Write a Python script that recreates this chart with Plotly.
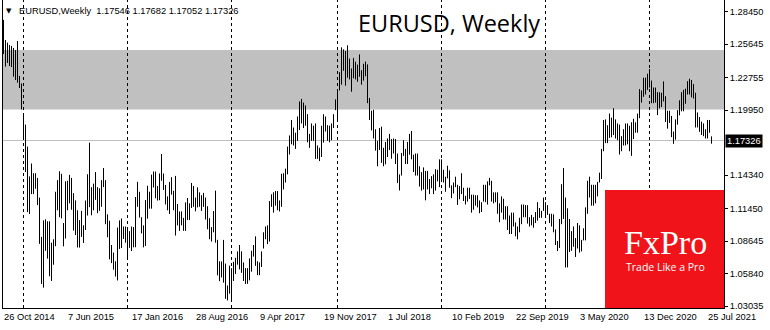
import pandas as pd
import plotly.graph_objects as go

# ---------------- data (weekly EURUSD bars, high / low) ----------------
first_week = "2014-10-26"

high_2014 = [1.2775, 1.2601, 1.2578, 1.2558, 1.2549, 1.2532, 1.2514, 1.2592, 1.2290, 1.2225]
low_2014 = [1.2480, 1.2371, 1.2402, 1.2376, 1.2367, 1.2284, 1.2255, 1.2232, 1.2186, 1.2001]

high_2015 = [1.1970, 1.1870, 1.1680, 1.1423, 1.1534, 1.1450, 1.1450, 1.1410, 1.1240, 1.0900,
             1.1043, 1.1052, 1.1035, 1.1035, 1.0850, 1.0880, 1.1290, 1.1390, 1.1467, 1.1445,
             1.1020, 1.1380, 1.1385, 1.1436, 1.1410, 1.1278, 1.1216, 1.1130, 1.1045, 1.1125,
             1.1000, 1.1214, 1.1441, 1.1714, 1.1330, 1.1360, 1.1460, 1.1330, 1.1320, 1.1390,
             1.1495, 1.1390, 1.1095, 1.1040, 1.0830, 1.0765, 1.0690, 1.0981, 1.1043, 1.1059,
             1.0990, 1.0990]
low_2015 = [1.1754, 1.1460, 1.1114, 1.1098, 1.1270, 1.1270, 1.1316, 1.1175, 1.0840, 1.0494,
            1.0462, 1.0780, 1.0712, 1.0560, 1.0520, 1.0660, 1.0820, 1.1130, 1.1070, 1.1060,
            1.0819, 1.0886, 1.1130, 1.1190, 1.1135, 1.0955, 1.0916, 1.0809, 1.0808, 1.0900,
            1.0848, 1.0960, 1.1085, 1.1157, 1.1087, 1.1130, 1.1220, 1.1105, 1.1125, 1.1160,
            1.1330, 1.1010, 1.0898, 1.0706, 1.0674, 1.0617, 1.0558, 1.0524, 1.0796, 1.0804,
            1.0882, 1.0850]

high_2016 = [1.0970, 1.0950, 1.0990, 1.0985, 1.1245, 1.1376, 1.1290, 1.1070, 1.1000, 1.1218,
             1.1342, 1.1290, 1.1438, 1.1465, 1.1465, 1.1339, 1.1448, 1.1616, 1.1447, 1.1349,
             1.1250, 1.1375, 1.1416, 1.1298, 1.1427, 1.1185, 1.1120, 1.1120, 1.1065, 1.1198,
             1.1236, 1.1190, 1.1366, 1.1340, 1.1240, 1.1328, 1.1285, 1.1260, 1.1280, 1.1240,
             1.1165, 1.1062, 1.0985, 1.1124, 1.1300, 1.0875, 1.0690, 1.0688, 1.0874, 1.0670,
             1.0480, 1.0652]
low_2016 = [1.0710, 1.0805, 1.0778, 1.0810, 1.0811, 1.1160, 1.1067, 1.0930, 1.0810, 1.0822,
            1.1058, 1.1144, 1.1144, 1.1327, 1.1234, 1.1214, 1.1217, 1.1385, 1.1306, 1.1180,
            1.1130, 1.1098, 1.1265, 1.1130, 1.0912, 1.0999, 1.0952, 1.1000, 1.0953, 1.0952,
            1.1046, 1.1046, 1.1150, 1.1160, 1.1121, 1.1155, 1.1160, 1.1125, 1.1160, 1.1050,
            1.0966, 1.0880, 1.0860, 1.0940, 1.0850, 1.0568, 1.0518, 1.0550, 1.0505, 1.0366,
            1.0352, 1.0410]

high_2017 = [1.0630, 1.0685, 1.0720, 1.0775, 1.0830, 1.0775, 1.0680, 1.0630, 1.0630, 1.0715,
             1.0780, 1.0830, 1.0905, 1.0690, 1.0680, 1.0775, 1.0940, 1.0990, 1.1000, 1.1210,
             1.1268, 1.1285, 1.1296, 1.1296, 1.1215, 1.1445, 1.1450, 1.1490, 1.1680, 1.1776,
             1.1910, 1.1845, 1.1800, 1.1940, 1.2070, 1.2092, 1.2060, 1.2035, 1.1960, 1.1790,
             1.1880, 1.1860, 1.1880, 1.1690, 1.1670, 1.1860, 1.1960, 1.1940, 1.1865, 1.1860,
             1.1880, 1.1960, 1.2088]
low_2017 = [1.0340, 1.0520, 1.0580, 1.0660, 1.0620, 1.0590, 1.0520, 1.0494, 1.0495, 1.0525,
            1.0600, 1.0730, 1.0650, 1.0570, 1.0570, 1.0640, 1.0800, 1.0880, 1.0838, 1.0860,
            1.1160, 1.1110, 1.1170, 1.1131, 1.1120, 1.1160, 1.1310, 1.1370, 1.1440, 1.1612,
            1.1700, 1.1690, 1.1660, 1.1730, 1.1823, 1.1880, 1.1840, 1.1860, 1.1717, 1.1670,
            1.1730, 1.1730, 1.1574, 1.1574, 1.1555, 1.1590, 1.1715, 1.1810, 1.1730, 1.1717,
            1.1735, 1.1840, 1.1995]

high_2018 = [1.2170, 1.2323, 1.2537, 1.2520, 1.2505, 1.2555, 1.2440, 1.2355, 1.2446, 1.2413,
             1.2388, 1.2476, 1.2340, 1.2395, 1.2414, 1.2390, 1.2100, 1.1990, 1.1998, 1.1830,
             1.1730, 1.1840, 1.1852, 1.1670, 1.1720, 1.1750, 1.1790, 1.1745, 1.1750, 1.1745,
             1.1620, 1.1440, 1.1625, 1.1735, 1.1660, 1.1720, 1.1790, 1.1815, 1.1610, 1.1620,
             1.1620, 1.1510, 1.1460, 1.1500, 1.1470, 1.1470, 1.1400, 1.1425, 1.1440, 1.1485,
             1.1480, 1.1570]
low_2018 = [1.1915, 1.2165, 1.2215, 1.2335, 1.2206, 1.2275, 1.2260, 1.2154, 1.2270, 1.2260,
            1.2240, 1.2283, 1.2215, 1.2250, 1.2287, 1.2055, 1.1910, 1.1820, 1.1750, 1.1645,
            1.1510, 1.1650, 1.1540, 1.1510, 1.1527, 1.1590, 1.1650, 1.1575, 1.1620, 1.1530,
            1.1365, 1.1301, 1.1430, 1.1600, 1.1530, 1.1530, 1.1610, 1.1570, 1.1460, 1.1430,
            1.1430, 1.1335, 1.1300, 1.1310, 1.1216, 1.1310, 1.1270, 1.1320, 1.1270, 1.1300,
            1.1380, 1.1330]

high_2019 = [1.1570, 1.1480, 1.1420, 1.1515, 1.1475, 1.1345, 1.1370, 1.1420, 1.1350, 1.1340,
             1.1450, 1.1325, 1.1255, 1.1325, 1.1325, 1.1265, 1.1265, 1.1260, 1.1260, 1.1215,
             1.1200, 1.1350, 1.1350, 1.1380, 1.1410, 1.1385, 1.1285, 1.1285, 1.1285, 1.1190,
             1.1250, 1.1230, 1.1165, 1.1165, 1.1085, 1.1110, 1.1110, 1.1025, 1.0990, 1.1065,
             1.1180, 1.1180, 1.1175, 1.1175, 1.1070, 1.1090, 1.1070, 1.1115, 1.1200, 1.1150,
             1.1125, 1.1240]
low_2019 = [1.1395, 1.1370, 1.1290, 1.1405, 1.1325, 1.1235, 1.1275, 1.1330, 1.1176, 1.1225,
            1.1270, 1.1210, 1.1180, 1.1205, 1.1228, 1.1110, 1.1135, 1.1170, 1.1155, 1.1105,
            1.1115, 1.1205, 1.1200, 1.1180, 1.1345, 1.1205, 1.1190, 1.1200, 1.1100, 1.1027,
            1.1110, 1.1050, 1.1050, 1.0960, 1.0925, 1.0925, 1.0990, 1.0905, 1.0879, 1.0940,
            1.1010, 1.1070, 1.1070, 1.1015, 1.0990, 1.1000, 1.0980, 1.1020, 1.1040, 1.1065,
            1.1065, 1.1125]

high_2020 = [1.1200, 1.1175, 1.1100, 1.1100, 1.1095, 1.0965, 1.0865, 1.1055, 1.1355, 1.1495,
             1.1240, 1.1147, 1.1055, 1.0950, 1.0990, 1.0890, 1.1020, 1.1000, 1.0875, 1.0975,
             1.1155, 1.1385, 1.1420, 1.1350, 1.1350, 1.1350, 1.1375, 1.1455, 1.1660, 1.1910,
             1.1915, 1.1865, 1.1965, 1.1930, 1.2011, 1.1915, 1.1880, 1.1870, 1.1770, 1.1830,
             1.1880, 1.1880, 1.1860, 1.1890, 1.1920, 1.1890, 1.1965, 1.2177, 1.2165, 1.2275,
             1.2275, 1.2310]
low_2020 = [1.1085, 1.1090, 1.1020, 1.0990, 1.0940, 1.0830, 1.0778, 1.0805, 1.1010, 1.1055,
            1.0636, 1.0637, 1.0770, 1.0780, 1.0815, 1.0727, 1.0800, 1.0765, 1.0775, 1.0870,
            1.0870, 1.1100, 1.1240, 1.1170, 1.1170, 1.1190, 1.1250, 1.1370, 1.1400, 1.1640,
            1.1710, 1.1710, 1.1755, 1.1760, 1.1780, 1.1750, 1.1735, 1.1612, 1.1640, 1.1690,
            1.1690, 1.1700, 1.1640, 1.1600, 1.1745, 1.1800, 1.1800, 1.1925, 1.2060, 1.2110,
            1.2130, 1.2170]

high_2021 = [1.2349, 1.2250, 1.2190, 1.2190, 1.2150, 1.2150, 1.2145, 1.2243, 1.2115, 1.1990,
             1.1990, 1.1945, 1.1810, 1.1915, 1.1995, 1.2080, 1.2150, 1.2170, 1.2180, 1.2245,
             1.2266, 1.2255, 1.2220, 1.2145, 1.1975, 1.1935, 1.1895, 1.1880, 1.1830, 1.1910,
             1.1910, 1.17682]
low_2021 = [1.2190, 1.2055, 1.2055, 1.2060, 1.1952, 1.2010, 1.2022, 1.2070, 1.1893, 1.1835,
            1.1885, 1.1762, 1.1704, 1.1740, 1.1870, 1.1950, 1.1985, 1.1985, 1.2050, 1.2130,
            1.2130, 1.2105, 1.2095, 1.1845, 1.1845, 1.1807, 1.1780, 1.1770, 1.1750, 1.1750,
            1.1800, 1.17052]

last_bar = ["1.17546", "1.17682", "1.17052", "1.17326"]  # open high low close
last_close = 1.17326

zone_low, zone_high = 1.2000, 1.2515

separator_dates = ["2015-01-04", "2016-01-03", "2017-01-01", "2018-01-07",
                   "2019-01-06", "2020-01-05", "2021-01-03"]

x_tick_dates = ["2014-10-26", "2015-06-07", "2016-01-17", "2016-08-28", "2017-04-09",
                "2017-11-19", "2018-07-01", "2019-02-10", "2019-09-22", "2020-05-03",
                "2020-12-13", "2021-07-25"]
x_tick_labels = ["26 Oct 2014", "7 Jun 2015", "17 Jan 2016", "28 Aug 2016", "9 Apr 2017",
                 "19 Nov 2017", "1 Jul 2018", "10 Feb 2019", "22 Sep 2019", "3 May 2020",
                 "13 Dec 2020", "25 Jul 2021"]

y_tick_vals = [1.28450, 1.25645, 1.22755, 1.19950, 1.14340, 1.11450, 1.08645, 1.05840, 1.03035]

# ---------------- build ----------------
highs = high_2014 + high_2015 + high_2016 + high_2017 + high_2018 + high_2019 + high_2020 + high_2021
lows = low_2014 + low_2015 + low_2016 + low_2017 + low_2018 + low_2019 + low_2020 + low_2021
dates = pd.date_range(first_week, periods=len(highs), freq="7D")

xs, ys = [], []
for d, h, l in zip(dates, highs, lows):
    xs += [d, d, None]
    ys += [l, h, None]

W, H = 770, 330
ML, MR, MT, MB = 3, 46, 0, 22
plot_w = W - ML - MR
plot_h = H - MT - MB

x_start = pd.Timestamp(first_week) - pd.Timedelta(days=1.75)
x_end = x_start + pd.Timedelta(days=7 * plot_w / 2.0)
y_range = [1.02862, 1.29460]

SMALL = "Liberation Sans, Arial, sans-serif"

fig = go.Figure()
fig.add_trace(go.Scatter(x=xs, y=ys, mode="lines",
                         line=dict(color="black", width=1),
                         hoverinfo="skip", showlegend=False, connectgaps=False))

shapes = [dict(type="rect", xref="paper", yref="y", x0=0, x1=1, y0=zone_low, y1=zone_high,
               fillcolor="#C0C0C0", line=dict(width=0), layer="below")]
for s in separator_dates:
    shapes.append(dict(type="line", xref="x", yref="paper", x0=s, x1=s, y0=0, y1=1,
                       line=dict(color="black", width=1, dash="3px,3px"), layer="below"))
shapes.append(dict(type="line", xref="paper", yref="y", x0=0, x1=1, y0=last_close, y1=last_close,
                   line=dict(color="#C0C0C0", width=1), layer="below"))
# FxPro logo box
box_x0 = (605 - ML) / plot_w
box_y1 = (308 - 190) / plot_h
shapes.append(dict(type="rect", xref="paper", yref="paper", x0=box_x0, x1=1, y0=0, y1=box_y1,
                   fillcolor="#F0141A", line=dict(width=0), layer="above"))


def px_x(p):
    return (p - ML) / plot_w


def px_y(p):
    return 1 - (p - MT) / plot_h


annotations = [
    dict(text="EURUSD, Weekly", xref="paper", yref="paper", x=px_x(542), y=px_y(23),
         xanchor="right", yanchor="middle", showarrow=False,
         font=dict(family="Open Sans", size=23.5, color="black")),
    dict(text="\u25BC", xref="paper", yref="paper", x=px_x(4), y=px_y(11),
         xanchor="left", yanchor="middle", showarrow=False,
         font=dict(family="DejaVu Sans", size=7, color="black")),
    dict(text="EURUSD,Weekly\u00a0 " + " ".join(last_bar), xref="paper", yref="paper",
         x=px_x(17), y=px_y(11), xanchor="left", yanchor="middle", showarrow=False,
         font=dict(family=SMALL, size=9.3, color="black")),
    dict(text=f"{last_close:.5f}", xref="paper", yref="y", x=1, y=last_close,
         xanchor="left", yanchor="middle", xshift=1, showarrow=False,
         bgcolor="black", borderpad=1,
         font=dict(family=SMALL, size=9.3, color="white")),
    dict(text="FxPro", xref="paper", yref="paper", x=px_x(665), y=px_y(242),
         xanchor="center", yanchor="middle", showarrow=False,
         font=dict(family="Liberation Serif, Times New Roman, serif", size=34, color="white")),
    dict(text="Trade Like a Pro", xref="paper", yref="paper", x=px_x(665), y=px_y(266.5),
         xanchor="center", yanchor="middle", showarrow=False,
         font=dict(family="Open Sans", size=10.5, color="white")),
]

fig.update_layout(
    width=W, height=H,
    margin=dict(l=ML, r=MR, t=MT, b=MB, pad=0),
    paper_bgcolor="white", plot_bgcolor="white",
    showlegend=False,
    shapes=shapes, annotations=annotations,
    xaxis=dict(type="date", range=[x_start, x_end], showgrid=False, zeroline=False,
               showline=True, linecolor="black", linewidth=1, mirror=False,
               tickmode="array", tickvals=x_tick_dates, ticktext=x_tick_labels,
               ticks="", ticklabelposition="outside right",
               tickfont=dict(family=SMALL, size=9.3, color="black"),
               fixedrange=True),
    yaxis=dict(side="right", range=y_range, showgrid=False, zeroline=False,
               showline=True, linecolor="black", linewidth=1, mirror=True,
               tickmode="array", tickvals=y_tick_vals,
               ticktext=[f"{v:.5f}" for v in y_tick_vals],
               ticks="outside", ticklen=3, tickcolor="black", tickwidth=1,
               tickfont=dict(family=SMALL, size=9.3, color="black"),
               fixedrange=True),
)

fig.write_html("out.html")
